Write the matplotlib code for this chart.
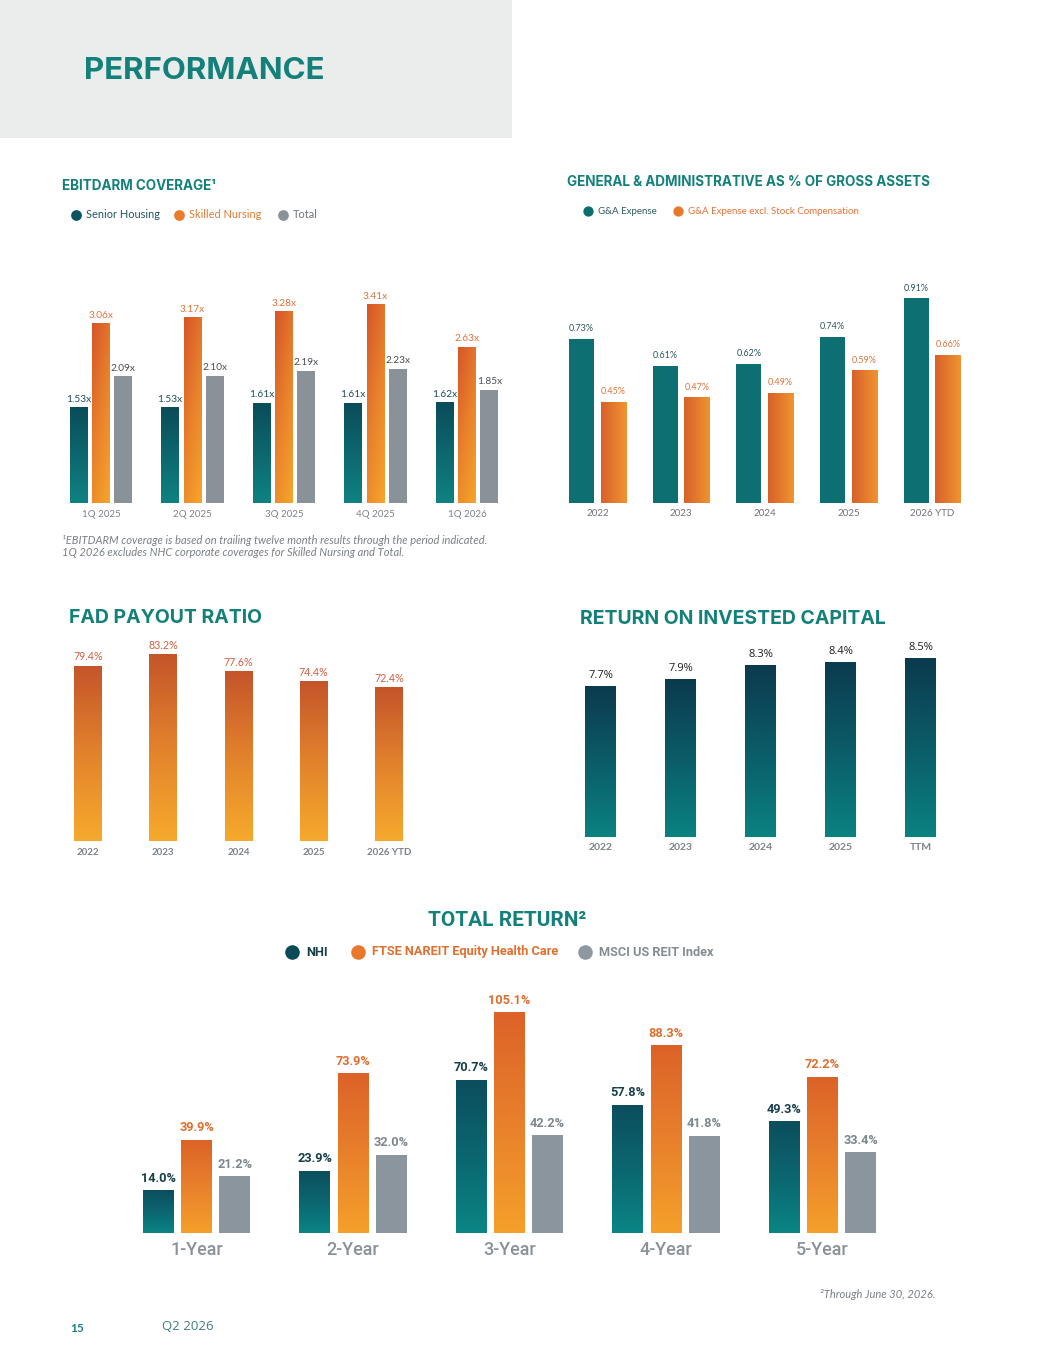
import numpy as np
import matplotlib
matplotlib.use("Agg")
import matplotlib.pyplot as plt
from matplotlib.colors import LinearSegmentedColormap
from matplotlib.patches import Rectangle

plt.rcParams['font.family'] = ['Lato', 'DejaVu Sans']

# ---- data ----
ebit_periods = ['1Q 2025', '2Q 2025', '3Q 2025', '4Q 2025', '1Q 2026']
ebit_series = ['Senior Housing', 'Skilled Nursing', 'Total']
senior_housing = [1.53, 1.53, 1.61, 1.61, 1.62]
skilled_nursing = [3.06, 3.17, 3.28, 3.41, 2.63]
ebit_total = [2.09, 2.10, 2.19, 2.23, 1.85]

ga_years = ['2022', '2023', '2024', '2025', '2026 YTD']
ga_series = ['G&A Expense', 'G&A Expense excl. Stock Compensation']
ga_expense = [0.73, 0.61, 0.62, 0.74, 0.91]
ga_excl_stock = [0.45, 0.47, 0.49, 0.59, 0.66]

fad_years = ['2022', '2023', '2024', '2025', '2026 YTD']
fad_payout = [79.4, 83.2, 77.6, 74.4, 72.4]

roic_years = ['2022', '2023', '2024', '2025', 'TTM']
roic = [7.7, 7.9, 8.3, 8.4, 8.5]

tr_periods = ['1-Year', '2-Year', '3-Year', '4-Year', '5-Year']
tr_series = ['NHI', 'FTSE NAREIT Equity Health Care', 'MSCI US REIT Index']
tr_nhi = [14.0, 23.9, 70.7, 57.8, 49.3]
tr_ftse = [39.9, 73.9, 105.1, 88.3, 72.2]
tr_msci = [21.2, 32.0, 42.2, 41.8, 33.4]

# ---- colours ----
TEAL_TITLE = '#13807A'
TICK_GRAY = '#7C8287'
ORANGE_TXT = '#E0733A'
DARK_TEAL_TXT = '#1D4E5A'

W, H = 1055, 1365
fig = plt.figure(figsize=(W / 100, H / 100), dpi=100)

# overlay in pixel coords for page furniture
page = fig.add_axes([0, 0, 1, 1], zorder=0)
page.set_xlim(0, W)
page.set_ylim(H, 0)
page.axis('off')
page.add_patch(Rectangle((0, 0), 512, 138, color='#EBECEC', lw=0))
page.text(84, 71, 'PERFORMANCE', fontsize=22.5, fontweight='bold', color=TEAL_TITLE,
          va='center', family=['Inter', 'DejaVu Sans'])


def px_axes(left, top, right, bottom):
    ax = fig.add_axes([left / W, 1 - bottom / H, (right - left) / W, (bottom - top) / H], zorder=2)
    ax.patch.set_alpha(0)
    for s in ax.spines.values():
        s.set_visible(False)
    ax.set_yticks([])
    ax.tick_params(axis='x', length=0)
    return ax


def grad_bars(ax, xs, vals, width, floor, colors, direction='v'):
    vals = np.asarray(vals, dtype=float)
    bars = ax.bar(xs, vals - floor, width, bottom=floor, color=colors[0], lw=0, zorder=2)
    if len(colors) == 1:
        return bars
    cmap = LinearSegmentedColormap.from_list('g', colors)
    rows = np.linspace(0, 1, 256)[:, None]
    cols = np.linspace(0, 1, 64)[None, :]
    if direction == 'v':
        arr = rows * np.ones_like(cols)
    elif direction == 'h':
        arr = np.ones_like(rows) * cols
    else:  # diagonal: dark at top-left
        arr = 0.65 * rows + 0.35 * (1 - cols)
    for b in bars:
        x0, y0, w, h = b.get_x(), b.get_y(), b.get_width(), b.get_height()
        im = ax.imshow(arr, cmap=cmap, extent=(x0, x0 + w, y0, y0 + h), origin='lower',
                       aspect='auto', zorder=3, interpolation='bilinear')
        im.set_clip_path(b)
    return bars


def value_labels(ax, bars, vals, fmt, color, size, pad, weight='normal', family=None):
    for b, v in zip(bars, vals):
        ax.annotate(fmt.format(v), (b.get_x() + b.get_width() / 2, b.get_y() + b.get_height()),
                    xytext=(0, pad), textcoords='offset points', ha='center', va='bottom',
                    fontsize=size, color=color, fontweight=weight, clip_on=False, zorder=5,
                    family=family)


def legend_row(items, y, size, dot_s, gap, weight='normal', family=None):
    for (x, label, dot_c, txt_c) in items:
        page.scatter([x], [y], s=dot_s, color=dot_c, lw=0, zorder=3)
        page.text(x + gap, y, label, fontsize=size, color=txt_c, va='center',
                  fontweight=weight, family=family)


# ================= EBITDARM COVERAGE =================
ax1 = px_axes(55.25, 253, 512.75, 503)
x = np.arange(len(ebit_periods))
fl1 = -0.22
off1, w1 = 0.245, 0.196
b_sh = grad_bars(ax1, x - off1, senior_housing, w1, fl1, ['#0F8282', '#0A4C5A'])
b_sn = grad_bars(ax1, x, skilled_nursing, w1, fl1, ['#F6A62A', '#E8812C', '#D65528'], 'd')
b_tot = grad_bars(ax1, x + off1, ebit_total, w1, fl1, ['#899298'])
value_labels(ax1, b_sh, senior_housing, '{:.2f}x', DARK_TEAL_TXT, 7.3, 2.5)
value_labels(ax1, b_sn, skilled_nursing, '{:.2f}x', ORANGE_TXT, 7.3, 2.5)
value_labels(ax1, b_tot, ebit_total, '{:.2f}x', '#4A4F54', 7.3, 2.5)
ax1.set_xlim(-0.5, 4.5)
ax1.set_ylim(fl1, fl1 + 250 / 54.8)
ax1.set_xticks(x, ebit_periods, fontsize=7, color=TICK_GRAY)
ax1.tick_params(axis='x', pad=5)

page.text(62, 186, 'EBITDARM COVERAGE¹', fontsize=9.7, fontweight='bold', color=TEAL_TITLE,
          va='center', family=['Inter', 'DejaVu Sans'])
legend_row([(76, ebit_series[0], '#0B5561', '#1F5560'),
            (179, ebit_series[1], '#EA7B2C', '#E07A32'),
            (283, ebit_series[2], '#8C9398', '#6F767C')], 215, 7.9, 60, 10)
page.text(62, 541, '¹EBITDARM coverage is based on trailing twelve month results through the period indicated.',
          fontsize=8, style='italic', color='#7A8086', va='center')
page.text(62, 553, '1Q 2026 excludes NHC corporate coverages for Skilled Nursing and Total.',
          fontsize=8, style='italic', color='#7A8086', va='center')

# ================= G&A AS % OF GROSS ASSETS =================
ax2 = px_axes(555.7, 278, 973.8, 503)
x = np.arange(len(ga_years))
off2, w2 = 0.19, 0.30
b_ga = grad_bars(ax2, x - off2, ga_expense, w2, 0, ['#0D6F71'])
b_gx = grad_bars(ax2, x + off2, ga_excl_stock, w2, 0, ['#D8612B', '#F0942F'], 'h')
value_labels(ax2, b_ga, ga_expense, '{:.2f}%', '#2E5560', 6.5, 4)
value_labels(ax2, b_gx, ga_excl_stock, '{:.2f}%', ORANGE_TXT, 6.5, 4)
ax2.set_xlim(-0.5, 4.5)
ax2.set_ylim(0, 1.0)
ax2.set_xticks(x, ga_years, fontsize=7, color='#6E7378')
ax2.tick_params(axis='x', pad=4)

page.text(567, 182, 'GENERAL & ADMINISTRATIVE AS % OF GROSS ASSETS', fontsize=9.7, fontweight='bold',
          color=TEAL_TITLE, va='center', family=['Inter', 'DejaVu Sans'])
legend_row([(588, ga_series[0], '#0C6E6F', '#2E5A62'),
            (678, ga_series[1], '#E8792C', '#E0733A')], 211, 7, 55, 10)

# ================= FAD PAYOUT RATIO =================
ax3 = px_axes(50.4, 640, 426.6, 841)
x = np.arange(len(fad_years))
fl3 = 22.2
b_fad = grad_bars(ax3, x, fad_payout, 0.372, fl3, ['#F6AA2C', '#E2822C', '#C4552A'])
value_labels(ax3, b_fad, fad_payout, '{:.1f}%', '#D0603F', 7.7, 2.5)
ax3.set_xlim(-0.5, 4.5)
ax3.set_ylim(fl3, fl3 + 201 / 3.06)
ax3.set_xticks(x, fad_years, fontsize=7, color=TICK_GRAY, fontweight='bold')
ax3.tick_params(axis='x', pad=5)

page.text(69, 618, 'FAD PAYOUT RATIO', fontsize=14, fontweight='bold', color=TEAL_TITLE,
          va='center', family=['Inter', 'DejaVu Sans'])

# ================= RETURN ON INVESTED CAPITAL =================
ax4 = px_axes(560.5, 640, 960.5, 837)
x = np.arange(len(roic_years))
fl4 = 3.39
b_roic = grad_bars(ax4, x, roic, 0.3875, fl4, ['#0A8282', '#0B5C68', '#0B3A4E'])
value_labels(ax4, b_roic, roic, '{:.1f}%', '#1E1E1E', 8, 3.5, family=['Open Sans', 'DejaVu Sans'])
ax4.set_xlim(-0.5, 4.5)
ax4.set_ylim(fl4, fl4 + 197 / 35)
ax4.set_xticks(x, roic_years, fontsize=7.5, color=TICK_GRAY, fontweight='bold')
ax4.tick_params(axis='x', pad=4.5)

page.text(580, 619, 'RETURN ON INVESTED CAPITAL', fontsize=14, fontweight='bold', color=TEAL_TITLE,
          va='center', family=['Inter', 'DejaVu Sans'])

# ================= TOTAL RETURN =================
tr_font = ['Roboto', 'DejaVu Sans']
ax5 = px_axes(118.25, 990, 900.75, 1233)
x = np.arange(len(tr_periods))
fl5 = -8
off5, w5 = 0.243, 0.198
b_nhi = grad_bars(ax5, x - off5, tr_nhi, w5, fl5, ['#0A8585', '#0B6670', '#0C4E5E'])
b_ftse = grad_bars(ax5, x, tr_ftse, w5, fl5, ['#F5A02A', '#E8802C', '#DC6228'])
b_msci = grad_bars(ax5, x + off5, tr_msci, w5, fl5, ['#8A959E'])
value_labels(ax5, b_nhi, tr_nhi, '{:.1f}%', '#163F4C', 9.2, 4, 'bold', tr_font)
value_labels(ax5, b_ftse, tr_ftse, '{:.1f}%', '#E06E2E', 9.2, 4, 'bold', tr_font)
value_labels(ax5, b_msci, tr_msci, '{:.1f}%', '#7D878E', 9.2, 4, 'bold', tr_font)
ax5.set_xlim(-0.5, 4.5)
ax5.set_ylim(fl5, fl5 + 243 / 1.95)
ax5.set_xticks(x, tr_periods, fontsize=13, color='#8A9298', fontweight='medium', family=tr_font)
ax5.tick_params(axis='x', pad=6)

page.text(507, 920, 'TOTAL RETURN²', fontsize=15, fontweight='bold', color=TEAL_TITLE,
          va='center', ha='center', family=tr_font)
legend_row([(292, tr_series[0], '#0B4B58', '#173F4A'),
            (358, tr_series[1], '#E9772C', '#E07030'),
            (585, tr_series[2], '#8F989F', '#858D93')], 952, 9.2, 110, 14, 'bold', tr_font)
page.text(935, 1294, '²Through June 30, 2026.', fontsize=8, style='italic', color='#7A8086',
          va='center', ha='right')

# ---- footer ----
page.text(70, 1328, '15', fontsize=8.5, fontweight='bold', color='#17807A', va='center')
page.text(162, 1327, 'Q2 2026', fontsize=9.5, color='#3F7F86', va='center',
          family=['Open Sans', 'DejaVu Sans'])

fig.savefig('out.png', dpi=100)
